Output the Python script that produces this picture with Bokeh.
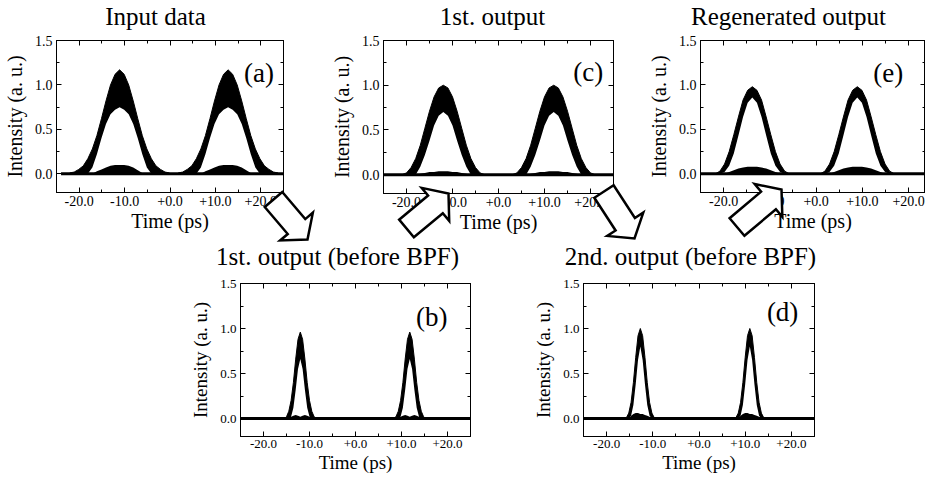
import math
from bokeh.plotting import figure
from bokeh.models import Range1d, LinearAxis, FixedTicker, PrintfTickFormatter, CustomJSTickFormatter
from bokeh.embed import file_html
from bokeh.resources import INLINE
from bokeh.core.properties import value

W, H = 925, 478
FONT = "Liberation Serif"

# ---------------- data ----------------
titles = ["Input data", "1st. output", "Regenerated output",
          "1st. output (before BPF)", "2nd. output (before BPF)"]
x_major = [-20, -10, 0, 10, 20]
x_minor = [-25, -15, -5, 5, 15, 25]
y_major = [0.0, 0.5, 1.0, 1.5]
y_minor = [0.25, 0.75, 1.25]

# (a) Input data
a_centers = [-11.1, 12.8]
a_offsets = [-11, -10, -9, -8, -7, -6, -5, -4, -3, -2, -1, 0, 1, 2, 3, 4, 5, 6, 7, 8, 9, 10, 11]
a_outer = [0.01, 0.02, 0.05, 0.09, 0.17, 0.28, 0.43, 0.62, 0.82, 1.00, 1.12, 1.17,
           1.12, 1.00, 0.82, 0.62, 0.43, 0.28, 0.17, 0.09, 0.05, 0.02, 0.01]
a_inner = [0, 0, 0, 0, 0, 0.07, 0.22, 0.40, 0.56, 0.67, 0.72, 0.75,
           0.72, 0.67, 0.56, 0.40, 0.22, 0.07, 0, 0, 0, 0, 0]
a_bump_off = [-6, -5, -4, -3, -2, -1, 0, 1, 2, 3, 4, 5, 6]
a_bump = [0, 0.03, 0.05, 0.07, 0.09, 0.10, 0.10, 0.10, 0.09, 0.07, 0.04, 0.01, 0]

# (c) 1st. output
c_centers = [-12.0, 12.0]
c_offsets = [-9, -8, -7, -6, -5, -4, -3, -2, -1, 0, 1, 2, 3, 4, 5, 6, 7, 8, 9]
c_outer = [0, 0.02, 0.08, 0.18, 0.33, 0.52, 0.71, 0.87, 0.97, 1.00,
           0.97, 0.87, 0.71, 0.52, 0.33, 0.18, 0.08, 0.02, 0]
c_inner = [0, 0, 0, 0, 0.09, 0.22, 0.38, 0.55, 0.66, 0.70,
           0.66, 0.55, 0.38, 0.22, 0.09, 0, 0, 0, 0]
c_bump_off = [-6, -5, -4, -3, -2, -1, 0, 1, 2, 3, 4, 5, 6]
c_bump = [0, 0.01, 0.02, 0.03, 0.03, 0.04, 0.04, 0.04, 0.03, 0.03, 0.02, 0.01, 0]

# (e) Regenerated output
e_centers = [-13.8, 8.9]
e_offsets = [-8, -7, -6, -5, -4, -3, -2, -1, 0, 1, 2, 3, 4, 5, 6, 7, 8]
e_outer = [0, 0.03, 0.11, 0.25, 0.44, 0.64, 0.83, 0.94, 0.98,
           0.94, 0.83, 0.64, 0.44, 0.25, 0.11, 0.03, 0]
e_inner = [0, 0, 0.02, 0.09, 0.23, 0.43, 0.64, 0.80, 0.86,
           0.80, 0.64, 0.43, 0.23, 0.09, 0.02, 0, 0]
e_bump_off = [-6, -5, -4, -3, -2, -1, 0, 1, 2, 3, 4, 5, 6]
e_bump = [0, 0.02, 0.04, 0.06, 0.07, 0.08, 0.08, 0.08, 0.07, 0.06, 0.04, 0.02, 0]

# (b) 1st. output (before BPF)
b_centers = [-12.0, 11.8]
b_offsets = [-3.5, -3, -2.5, -2, -1.5, -1, -0.5, 0, 0.5, 1, 1.5, 2, 2.5, 3, 3.5]
b_outer = [0, 0.02, 0.08, 0.20, 0.40, 0.66, 0.88, 0.96, 0.88, 0.66, 0.40, 0.20, 0.08, 0.02, 0]
b_inner = [0, 0, 0, 0.02, 0.12, 0.32, 0.55, 0.66, 0.55, 0.32, 0.12, 0.02, 0, 0, 0]
b_bump_off = [-2.5, -2, -1.5, -1, -0.5, 0, 0.5, 1, 1.5, 2, 2.5]
b_bump = [0, 0.02, 0.03, 0.04, 0.03, 0.02, 0.03, 0.04, 0.03, 0.02, 0]

# (d) 2nd. output (before BPF)
d_centers = [-12.7, 11.0]
d_offsets = [-3.5, -3, -2.5, -2, -1.5, -1, -0.5, 0, 0.5, 1, 1.5, 2, 2.5, 3, 3.5]
d_outer = [0, 0.01, 0.06, 0.18, 0.40, 0.68, 0.92, 1.00, 0.92, 0.68, 0.40, 0.18, 0.06, 0.01, 0]
d_inner = [0, 0, 0, 0.03, 0.15, 0.38, 0.65, 0.80, 0.65, 0.38, 0.15, 0.03, 0, 0, 0]
d_bump_off = [-2.5, -2, -1.5, -1, -0.5, 0, 0.5, 1, 1.5, 2, 2.5]
d_bump = [0, 0.03, 0.05, 0.06, 0.06, 0.05, 0.05, 0.04, 0.03, 0.02, 0]

# ---------------- layout geometry (pixels) ----------------
# frame: (left, right, top, bottom)
panels = [
    dict(frame=(53, 283, 40, 192), xr=(-25, 25), yr=(-0.21, 1.5), c=a_centers, o=a_offsets,
         outer=a_outer, inner=a_inner, bo=a_bump_off, b=a_bump, base=(-24, 25),
         tag="(a)", tag_xy=(19.6, 1.13), tick_fs="14px", lab_fs="20px"),
    dict(frame=(383, 613, 40, 193), xr=(-25, 25), yr=(-0.21, 1.5), c=c_centers, o=c_offsets,
         outer=c_outer, inner=c_inner, bo=c_bump_off, b=c_bump, base=(-25, 25),
         tag="(c)", tag_xy=(19.5, 1.15), tick_fs="14px", lab_fs="20px"),
    dict(frame=(700, 925, 40, 192), xr=(-25, 23.65), yr=(-0.21, 1.5), c=e_centers, o=e_offsets,
         outer=e_outer, inner=e_inner, bo=e_bump_off, b=e_bump, base=(-25, 23.65),
         tag="(e)", tag_xy=(15.6, 1.14), tick_fs="14px", lab_fs="20px"),
    dict(frame=(240, 470, 283, 436), xr=(-25, 25), yr=(-0.2, 1.5), c=b_centers, o=b_offsets,
         outer=b_outer, inner=b_inner, bo=b_bump_off, b=b_bump, base=(-25, 25),
         tag="(b)", tag_xy=(16.6, 1.13), tick_fs="13px", lab_fs="19px"),
    dict(frame=(583, 814, 283, 436), xr=(-25, 25), yr=(-0.2, 1.5), c=d_centers, o=d_offsets,
         outer=d_outer, inner=d_inner, bo=d_bump_off, b=d_bump, base=(-25, 25),
         tag="(d)", tag_xy=(18.1, 1.18), tick_fs="13px", lab_fs="19px"),
]
title_xy = [(155, 16), (492, 16), (788, 16), (337, 256), (690, 256)]
# block arrows: (tail centre, tip) in page pixels
arrows = [((273, 199), (307, 239)), ((406, 228), (448, 193)),
          ((603.5, 191), (634, 238)), ((736.5, 226.5), (781, 189))]
SHAFT_HW, HEAD_HW, HEAD_LEN = 11.5, 21.5, 17


def style_axis(ax, tick_fs, lab_fs, labels=True):
    ax.major_tick_in = 5
    ax.major_tick_out = 0
    ax.minor_tick_in = 3
    ax.minor_tick_out = 0
    ax.axis_line_color = "black"
    ax.major_tick_line_color = "black"
    ax.minor_tick_line_color = "black"
    ax.major_label_text_font = FONT
    ax.major_label_text_color = "black"
    ax.major_label_text_font_size = tick_fs
    ax.axis_label_text_font = FONT
    ax.axis_label_text_font_style = "normal"
    ax.axis_label_text_color = "black"
    ax.axis_label_text_font_size = lab_fs
    if not labels:
        ax.major_label_standoff = 0
        ax.formatter = CustomJSTickFormatter(code="return ''")


def make_panel(cfg, first):
    L, R, T, B = cfg["frame"]
    p = figure(width=W, height=H, x_range=Range1d(*cfg["xr"]), y_range=Range1d(*cfg["yr"]),
               min_border_left=L, min_border_right=W - R, min_border_top=T,
               min_border_bottom=H - B, toolbar_location=None, output_backend="svg",
               x_axis_type=None, y_axis_type=None, tools="")
    p.background_fill_color = "white" if first else None
    p.border_fill_color = "white" if first else None
    p.outline_line_color = "black"
    p.outline_line_alpha = 1.0
    p.outline_line_width = 1

    xt = FixedTicker(ticks=x_major, minor_ticks=x_minor)
    yt = FixedTicker(ticks=y_major, minor_ticks=y_minor)
    bottom = LinearAxis(ticker=xt, formatter=PrintfTickFormatter(format="%+.1f"),
                        axis_label="Time (ps)")
    left = LinearAxis(ticker=yt, formatter=PrintfTickFormatter(format="%.1f"),
                      axis_label="Intensity (a. u.)")
    top = LinearAxis(ticker=xt)
    right = LinearAxis(ticker=yt)
    style_axis(bottom, cfg["tick_fs"], cfg["lab_fs"])
    style_axis(left, cfg["tick_fs"], cfg["lab_fs"])
    style_axis(top, cfg["tick_fs"], cfg["lab_fs"], labels=False)
    style_axis(right, cfg["tick_fs"], cfg["lab_fs"], labels=False)
    bottom.major_label_standoff = 3
    bottom.axis_label_standoff = 1
    left.major_label_standoff = 4
    left.axis_label_standoff = 6
    p.add_layout(bottom, "below")
    p.add_layout(left, "left")
    p.add_layout(top, "above")
    p.add_layout(right, "right")

    for c in cfg["c"]:
        xs = [c + o for o in cfg["o"]]
        p.varea(x=xs, y1=cfg["inner"], y2=cfg["outer"], fill_color="black")
        p.line(x=xs, y=cfg["outer"], line_color="black", line_width=1)
        bx = [c + o for o in cfg["bo"]]
        p.varea(x=bx, y1=[0] * len(cfg["b"]), y2=cfg["b"], fill_color="black")
    p.line(x=list(cfg["base"]), y=[0, 0], line_color="black", line_width=3)

    tx, ty = cfg["tag_xy"]
    p.text(x=[tx], y=[ty], text=[cfg["tag"]], text_font=value(FONT),
           text_font_size="27px", text_align="center", text_baseline="middle",
           text_color="black")
    return p


figs = [make_panel(cfg, i == 0) for i, cfg in enumerate(panels)]

# overlay for titles and block arrows (page pixel coordinates)
ov = figure(width=W, height=H, x_range=Range1d(0, W), y_range=Range1d(H, 0),
            min_border_left=0, min_border_right=0, min_border_top=0, min_border_bottom=0,
            toolbar_location=None, output_backend="svg", x_axis_type=None,
            y_axis_type=None, tools="")
ov.background_fill_color = None
ov.border_fill_color = None
ov.outline_line_color = None

ov.text(x=[t[0] for t in title_xy], y=[t[1] for t in title_xy], text=titles,
        text_font=value(FONT), text_font_size="25px", text_align="center",
        text_baseline="middle", text_color="black")

for (tx, ty), (px, py) in arrows:
    dx, dy = px - tx, py - ty
    n = math.hypot(dx, dy)
    ux, uy = dx / n, dy / n
    nx, ny = -uy, ux
    bx, by = px - HEAD_LEN * ux, py - HEAD_LEN * uy
    xs = [tx + SHAFT_HW * nx, bx + SHAFT_HW * nx, bx + HEAD_HW * nx, px,
          bx - HEAD_HW * nx, bx - SHAFT_HW * nx, tx - SHAFT_HW * nx]
    ys = [ty + SHAFT_HW * ny, by + SHAFT_HW * ny, by + HEAD_HW * ny, py,
          by - HEAD_HW * ny, by - SHAFT_HW * ny, ty - SHAFT_HW * ny]
    ov.patch(x=xs, y=ys, fill_color="white", line_color="black", line_width=2.5,
             line_join="miter")

figs.append(ov)
for f in figs:
    f.styles = {"position": "absolute", "left": "0px", "top": "0px"}

open("out.html", "w").write(file_html(figs, INLINE))
